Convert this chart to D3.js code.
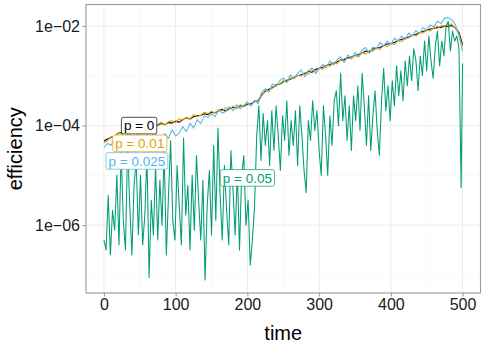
<!DOCTYPE html>
<html>
<head>
<meta charset="utf-8">
<script src="https://cdn.jsdelivr.net/npm/d3@7"></script>
<style>
  body { margin: 0; background: #fff; }
  text { font-family: "Liberation Sans", Arial, sans-serif; }
</style>
</head>
<body>
<div id="chart"></div>
<script>
// efficiency values, stored as log10, every 5 time steps (0..500)
const timeStep5 = d3.range(0, 501, 5);
const logP0 = [
  -4.31,-4.27,-4.24,-4.21,-4.15,-4.14,-4.09,-4.10,-4.06,-4.07,
  -4.03,-4.04,-4.01,-3.98,-4.02,-3.99,-3.96,-3.98,-3.94,-3.95,
  -3.91,-3.93,-3.88,-3.84,-3.87,-3.82,-3.80,-3.79,-3.76,-3.78,
  -3.73,-3.74,-3.70,-3.67,-3.71,-3.66,-3.63,-3.65,-3.60,-3.61,
  -3.57,-3.56,-3.52,-3.50,-3.38,-3.31,-3.27,-3.24,-3.18,-3.17,
  -3.12,-3.09,-3.07,-3.03,-3.00,-2.98,-2.96,-2.91,-2.93,-2.87,
  -2.85,-2.83,-2.79,-2.77,-2.74,-2.72,-2.68,-2.67,-2.63,-2.62,
  -2.59,-2.57,-2.54,-2.50,-2.52,-2.46,-2.44,-2.43,-2.39,-2.36,
  -2.35,-2.33,-2.29,-2.27,-2.24,-2.22,-2.19,-2.17,-2.13,-2.11,
  -2.09,-2.06,-2.05,-2.02,-2.03,-2.00,-2.01,-1.99,-2.04,-2.13,
  -2.37];
const logP001 = [
  -4.35,-4.30,-4.22,-4.25,-4.14,-4.17,-4.10,-4.06,-4.11,-4.02,
  -4.06,-4.00,-4.04,-3.96,-4.01,-3.97,-3.93,-3.99,-3.92,-3.90,
  -3.94,-3.86,-3.89,-3.83,-3.86,-3.78,-3.82,-3.79,-3.73,-3.76,
  -3.71,-3.75,-3.68,-3.70,-3.64,-3.67,-3.61,-3.66,-3.58,-3.60,
  -3.55,-3.59,-3.50,-3.52,-3.41,-3.28,-3.32,-3.22,-3.20,-3.16,
  -3.10,-3.13,-3.04,-3.06,-2.99,-3.01,-2.93,-2.97,-2.88,-2.91,
  -2.84,-2.87,-2.78,-2.81,-2.73,-2.76,-2.68,-2.71,-2.64,-2.66,
  -2.59,-2.62,-2.53,-2.56,-2.49,-2.51,-2.44,-2.47,-2.39,-2.41,
  -2.35,-2.37,-2.29,-2.31,-2.25,-2.24,-2.18,-2.20,-2.13,-2.14,
  -2.08,-2.10,-2.03,-2.05,-1.99,-2.00,-1.97,-1.96,-2.04,-2.17,
  -2.41];
const logP0025 = [
  -4.45,-4.36,-4.40,-4.24,-4.28,-4.18,-4.12,-4.22,-4.09,-4.15,
  -4.22,-4.06,-4.18,-4.28,-4.12,-4.24,-4.33,-4.16,-4.26,-4.08,
  -4.21,-4.15,-4.02,-4.12,-3.95,-4.05,-3.88,-3.96,-3.80,-3.84,
  -3.76,-3.82,-3.68,-3.75,-3.71,-3.62,-3.70,-3.58,-3.66,-3.60,
  -3.52,-3.61,-3.49,-3.56,-3.33,-3.26,-3.31,-3.16,-3.22,-3.10,
  -3.04,-3.13,-2.98,-3.05,-2.95,-2.88,-3.02,-2.90,-2.84,-2.96,
  -2.86,-2.77,-2.84,-2.70,-2.78,-2.68,-2.62,-2.73,-2.58,-2.65,
  -2.53,-2.61,-2.48,-2.43,-2.55,-2.42,-2.46,-2.33,-2.40,-2.30,
  -2.37,-2.24,-2.30,-2.20,-2.27,-2.14,-2.20,-2.09,-2.15,-2.03,
  -2.08,-1.98,-2.02,-1.90,-1.95,-1.84,-1.83,-1.87,-1.97,-2.19,
  -2.51];
// p = 0.05 sampled every 3 steps, plus the last step
const timeP005 = d3.range(0, 499, 3).concat([500]);
const logP005 = [
  -6.3,-6.5,-5.4,-6.6,-5.7,-6.1,-5.0,-6.4,-4.5,-5.9,
  -6.5,-4.4,-5.6,-6.6,-5.2,-4.7,-6.2,-5.0,-6.4,-5.8,
  -4.6,-7.05,-5.5,-6.2,-4.8,-6.3,-5.1,-6.0,-4.5,-6.6,
  -5.4,-4.3,-5.9,-6.3,-4.8,-5.6,-6.4,-4.25,-5.8,-5.2,
  -6.5,-5.0,-6.1,-4.6,-5.5,-6.3,-5.1,-7.1,-5.6,-4.9,
  -6.2,-4.4,-5.9,-4.05,-5.4,-6.3,-4.8,-5.7,-6.4,-4.5,
  -5.3,-6.2,-4.9,-6.5,-5.0,-4.6,-6.0,-5.5,-6.8,-6.3,
  -5.6,-4.2,-3.6,-4.7,-3.75,-4.4,-3.9,-4.8,-3.7,-4.5,
  -3.6,-4.2,-4.9,-3.8,-4.3,-3.5,-4.6,-3.9,-4.4,-3.7,
  -4.8,-3.6,-4.2,-4.9,
  -5.35,-3.9,-4.3,-3.5,-4.1,-3.7,-4.5,-5.0,-3.6,-4.2,
  -5.0,-3.8,-4.4,-3.5,-3.3,-4.0,-2.95,-3.9,-3.4,-4.3,
  -3.6,-4.5,-3.4,-3.9,-3.2,-4.1,-2.95,
  -3.6,-4.4,-3.4,-4.5,-3.8,-3.3,-4.1,-4.6,-3.5,-2.85,
  -3.7,-3.2,-3.9,-3.1,-3.6,-2.8,-3.4,-2.9,-3.5,-2.7,
  -3.2,-2.6,-3.1,-2.45,-2.7,
  -3.3,-2.6,-3.0,-2.3,-2.9,-2.2,-2.7,-3.05,-2.4,-2.1,
  -2.8,-2.3,-2.6,-2.0,-1.9,-2.5,-2.1,-2.3,-2.2,-2.45,
  -5.25,-2.75];

const seriesNames = ["p = 0", "p = 0.01", "p = 0.025", "p = 0.05"];
const seriesColors = ["#000000", "#E69F00", "#56B4E9", "#009E73"];
const xTicks = [0, 100, 200, 300, 400, 500];
const yTicks = [1e-6, 1e-4, 1e-2];
const yTickLabels = ["1e\u221206", "1e\u221204", "1e\u221202"];

const series = [
  { name: seriesNames[0], color: seriesColors[0], time: timeStep5, logv: logP0 },
  { name: seriesNames[1], color: seriesColors[1], time: timeStep5, logv: logP001 },
  { name: seriesNames[2], color: seriesColors[2], time: timeStep5, logv: logP0025 },
  { name: seriesNames[3], color: seriesColors[3], time: timeP005, logv: logP005 }
].map(s => ({ ...s, values: s.time.map((t, i) => ({ t: t, v: Math.pow(10, s.logv[i]) })) }));

// label anchors (data coords) for the repel-style labels
const labelPos = [
  { t: 49, v: 1e-4 },
  { t: 50, v: 4.4e-5 },
  { t: 46, v: 1.95e-5 },
  { t: 200, v: 8.9e-6 }
];

const width = 485, height = 346,
    margin = ({ top: 4.5, right: 4.5, bottom: 53, left: 86 });

const svg = d3.select("#chart")
  .append("svg")
  .attr("width", width)
  .attr("height", height);

const allV = series.flatMap(s => s.values.map(d => d.v));
const lmin = Math.log10(d3.min(allV)), lmax = Math.log10(d3.max(allV));
const lpad = (lmax - lmin) * 0.05;

const x = d3.scaleLinear()
  .domain([-25, 525])
  .range([margin.left, width - margin.right]);

const y = d3.scaleLog()
  .domain([Math.pow(10, lmin - lpad), Math.pow(10, lmax + lpad)])
  .range([height - margin.bottom, margin.top]);

// grid lines
const minorX = [50, 150, 250, 350, 450];
const minorY = [1e-7, 1e-5, 1e-3];
svg.append("g").selectAll("line").data(minorX).join("line")
  .attr("x1", d => x(d)).attr("x2", d => x(d))
  .attr("y1", margin.top).attr("y2", height - margin.bottom)
  .attr("stroke", "#f3f3f3").attr("stroke-width", 0.6);
svg.append("g").selectAll("line").data(minorY).join("line")
  .attr("y1", d => y(d)).attr("y2", d => y(d))
  .attr("x1", margin.left).attr("x2", width - margin.right)
  .attr("stroke", "#f3f3f3").attr("stroke-width", 0.6);
svg.append("g").selectAll("line").data(xTicks).join("line")
  .attr("x1", d => x(d)).attr("x2", d => x(d))
  .attr("y1", margin.top).attr("y2", height - margin.bottom)
  .attr("stroke", "#ebebeb").attr("stroke-width", 1);
svg.append("g").selectAll("line").data(yTicks).join("line")
  .attr("y1", d => y(d)).attr("y2", d => y(d))
  .attr("x1", margin.left).attr("x2", width - margin.right)
  .attr("stroke", "#ebebeb").attr("stroke-width", 1);

// lines
const line = d3.line()
  .x(d => x(d.t))
  .y(d => y(d.v));

svg.append("g")
  .selectAll("path")
  .data(series)
  .join("path")
  .attr("d", d => line(d.values))
  .attr("fill", "none")
  .attr("stroke", d => d.color)
  .attr("stroke-width", 1.05)
  .attr("stroke-linejoin", "round");

// panel border
svg.append("rect")
  .attr("x", margin.left).attr("y", margin.top)
  .attr("width", width - margin.right - margin.left)
  .attr("height", height - margin.bottom - margin.top)
  .attr("fill", "none")
  .attr("stroke", "#9a9a9a")
  .attr("stroke-width", 1.1);

// axes
const xAxis = svg.append("g")
  .attr("transform", `translate(0,${height - margin.bottom})`)
  .call(d3.axisBottom(x).tickValues(xTicks).tickSize(3.5).tickPadding(2.5).tickSizeOuter(0));
const yAxis = svg.append("g")
  .attr("transform", `translate(${margin.left},0)`)
  .call(d3.axisLeft(y).tickValues(yTicks).tickFormat((d, i) => yTickLabels[i]).tickSize(3.5).tickPadding(2.5).tickSizeOuter(0));
[xAxis, yAxis].forEach(a => {
  a.select(".domain").remove();
  a.selectAll(".tick line").attr("stroke", "#9a9a9a").attr("stroke-width", 1.1);
  a.selectAll(".tick text").attr("fill", "#1a1a1a")
    .style("font-size", "16px").style("font-family", "Liberation Sans, Arial, sans-serif");
});

// axis titles
svg.append("text")
  .attr("x", (margin.left + width - margin.right) / 2)
  .attr("y", 340)
  .attr("text-anchor", "middle")
  .style("font-size", "20px")
  .attr("fill", "#000")
  .text("time");

svg.append("text")
  .attr("transform", `translate(22,${(margin.top + height - margin.bottom) / 2}) rotate(-90)`)
  .attr("text-anchor", "middle")
  .style("font-size", "20px")
  .attr("fill", "#000")
  .text("efficiency");

// labels
const lab = svg.append("g").selectAll("g")
  .data(series)
  .join("g")
  .attr("transform", (d, i) => `translate(${x(labelPos[i].t)},${y(labelPos[i].v)})`);

lab.append("text")
  .attr("text-anchor", "middle")
  .attr("dy", "0.36em")
  .style("font-size", "13.5px")
  .attr("fill", d => d.color)
  .text(d => d.name)
  .each(function(d) {
    const bb = this.getBBox();
    d3.select(this.parentNode).insert("rect", "text")
      .attr("x", bb.x - 2.5).attr("y", -8.3)
      .attr("width", bb.width + 5).attr("height", 16.6)
      .attr("rx", 2).attr("ry", 2)
      .attr("fill", "#fff")
      .attr("stroke", d.color)
      .attr("stroke-width", 0.7);
  });
</script>
</body>
</html>
